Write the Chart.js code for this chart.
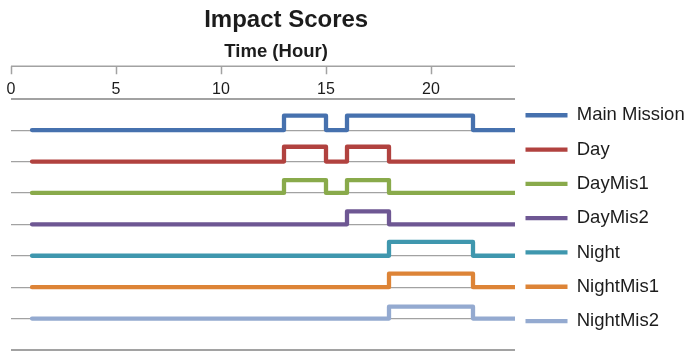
<!DOCTYPE html>
<html>
<head>
<meta charset="utf-8">
<title>Impact Scores</title>
<script src="https://cdn.jsdelivr.net/npm/chart.js@4.4.1/dist/chart.umd.min.js"></script>
<style>
  html, body { margin: 0; padding: 0; background: #ffffff; }
  #wrap { width: 686px; height: 351px; }
</style>
</head>
<body>
<div id="wrap"><canvas id="impact" width="686" height="351"></canvas></div>
<script>
// Hours of the day at which each score is sampled
const hours = [1, 2, 3, 4, 5, 6, 7, 8, 9, 10, 11, 12, 13, 14, 15, 16, 17, 18, 19, 20, 21, 22, 23, 24];

// Tick labels along the time axis
const hourTicks = [0, 5, 10, 15, 20];

// Series names, top lane first
const seriesNames = ['Main Mission', 'Day', 'DayMis1', 'DayMis2', 'Night', 'NightMis1', 'NightMis2'];

// Impact score per hour for each series (a value holds until the next hour)
const mainMission = [0, 0, 0, 0, 0, 0, 0, 0, 0, 0, 0, 0, 0.46, 0.46, 0, 0.46, 0.46, 0.46, 0.46, 0.46, 0.46, 0, 0, 0];
const day         = [0, 0, 0, 0, 0, 0, 0, 0, 0, 0, 0, 0, 0.47, 0.47, 0, 0.47, 0.47, 0, 0, 0, 0, 0, 0, 0];
const dayMis1     = [0, 0, 0, 0, 0, 0, 0, 0, 0, 0, 0, 0, 0.41, 0.41, 0, 0.41, 0.41, 0, 0, 0, 0, 0, 0, 0];
const dayMis2     = [0, 0, 0, 0, 0, 0, 0, 0, 0, 0, 0, 0, 0, 0, 0, 0.41, 0.41, 0, 0, 0, 0, 0, 0, 0];
const night       = [0, 0, 0, 0, 0, 0, 0, 0, 0, 0, 0, 0, 0, 0, 0, 0, 0, 0.44, 0.44, 0.44, 0.44, 0, 0, 0];
const nightMis1   = [0, 0, 0, 0, 0, 0, 0, 0, 0, 0, 0, 0, 0, 0, 0, 0, 0, 0.43, 0.43, 0.43, 0.43, 0, 0, 0];
const nightMis2   = [0, 0, 0, 0, 0, 0, 0, 0, 0, 0, 0, 0, 0, 0, 0, 0, 0, 0.38, 0.38, 0.38, 0.38, 0, 0, 0];

const seriesScores = [mainMission, day, dayMis1, dayMis2, night, nightMis1, nightMis2];
const seriesColors = ['#4671ae', '#b1423f', '#89aa4b', '#6e5793', '#3f97ae', '#dd8437', '#94aad0'];

const FONT = "'Liberation Sans', Arial, Helvetica, sans-serif";
const TEXT = '#1c1c1c';
const RULE = '#a2a2a2';

// Each series sits on its own lane: the first one on the highest lane
const laneCount = seriesNames.length;

const datasets = seriesNames.map((name, i) => {
  const lane = laneCount - i;
  return {
    label: name,
    data: hours.map((h, j) => ({ x: h, y: lane + seriesScores[i][j] })),
    borderColor: seriesColors[i],
    backgroundColor: seriesColors[i],
    borderWidth: 4.3,
    borderCapStyle: 'round',
    borderJoinStyle: 'round',
    stepped: 'before',
    pointRadius: 0,
    pointHoverRadius: 0,
    fill: false
  };
});

// Chart heading, time-axis heading and the time-axis rule with downward tick marks
const headings = {
  id: 'headings',
  afterDraw(chart) {
    const { ctx, chartArea } = chart;
    const x = chart.scales.x;
    ctx.save();

    const ruleY = chartArea.top - 32.5;
    ctx.strokeStyle = RULE;
    ctx.lineWidth = 1.5;
    ctx.beginPath();
    ctx.moveTo(x.left, ruleY);
    ctx.lineTo(x.right, ruleY);
    x.ticks.forEach(t => {
      const px = Math.round(x.getPixelForValue(t.value)) + 0.5;
      ctx.moveTo(px, ruleY);
      ctx.lineTo(px, ruleY + 8);
    });
    ctx.stroke();

    ctx.fillStyle = TEXT;
    ctx.textAlign = 'center';
    ctx.textBaseline = 'alphabetic';
    ctx.font = "bold 24px " + FONT;
    ctx.fillText('Impact Scores', chartArea.left + chartArea.width * 0.546, 27);
    ctx.font = "bold 18.5px " + FONT;
    ctx.fillText('Time (Hour)', chartArea.left + chartArea.width * 0.526, 57);
    ctx.restore();
  }
};

// Legend sits just right of the plot, its first entry level with the top lane
const legendPlacement = {
  id: 'legendPlacement',
  afterLayout(chart) {
    const lg = chart.legend;
    const pad = lg.options.labels.padding;
    lg.left = chart.chartArea.right + 10.5 - pad;
    lg.right = chart.width;
    lg.top = chart.chartArea.top - 8.5;
    lg.bottom = chart.height + 60;
  }
};

new Chart(document.getElementById('impact'), {
  type: 'line',
  data: { datasets },
  options: {
    responsive: false,
    devicePixelRatio: 1,
    animation: false,
    events: [],
    layout: { padding: { left: 11, right: 3, top: 79.5, bottom: 1 } },
    scales: {
      x: {
        type: 'linear',
        position: 'top',
        min: 0,
        max: 24,
        afterBuildTicks: scale => { scale.ticks = hourTicks.map(v => ({ value: v })); },
        ticks: {
          padding: 0,
          maxRotation: 0,
          autoSkip: false,
          color: TEXT,
          font: { family: FONT, size: 16 }
        },
        grid: { display: false, drawTicks: false },
        border: { display: false }
      },
      y: {
        min: 0,
        max: laneCount + 1,
        ticks: { display: false, stepSize: 1 },
        grid: {
          drawTicks: false,
          color: RULE,
          lineWidth: c => (c.tick.value === 0 || c.tick.value === laneCount + 1) ? 2 : 1.2
        },
        border: { display: false }
      }
    },
    plugins: {
      title: { display: false },
      tooltip: { enabled: false },
      legend: {
        position: 'right',
        align: 'start',
        fullSize: true,
        labels: {
          usePointStyle: true,
          pointStyle: 'line',
          pointStyleWidth: 42,
          padding: 15.8,
          color: TEXT,
          font: { family: FONT, size: 18.5 }
        }
      }
    }
  },
  plugins: [headings, legendPlacement]
});
</script>
</body>
</html>
